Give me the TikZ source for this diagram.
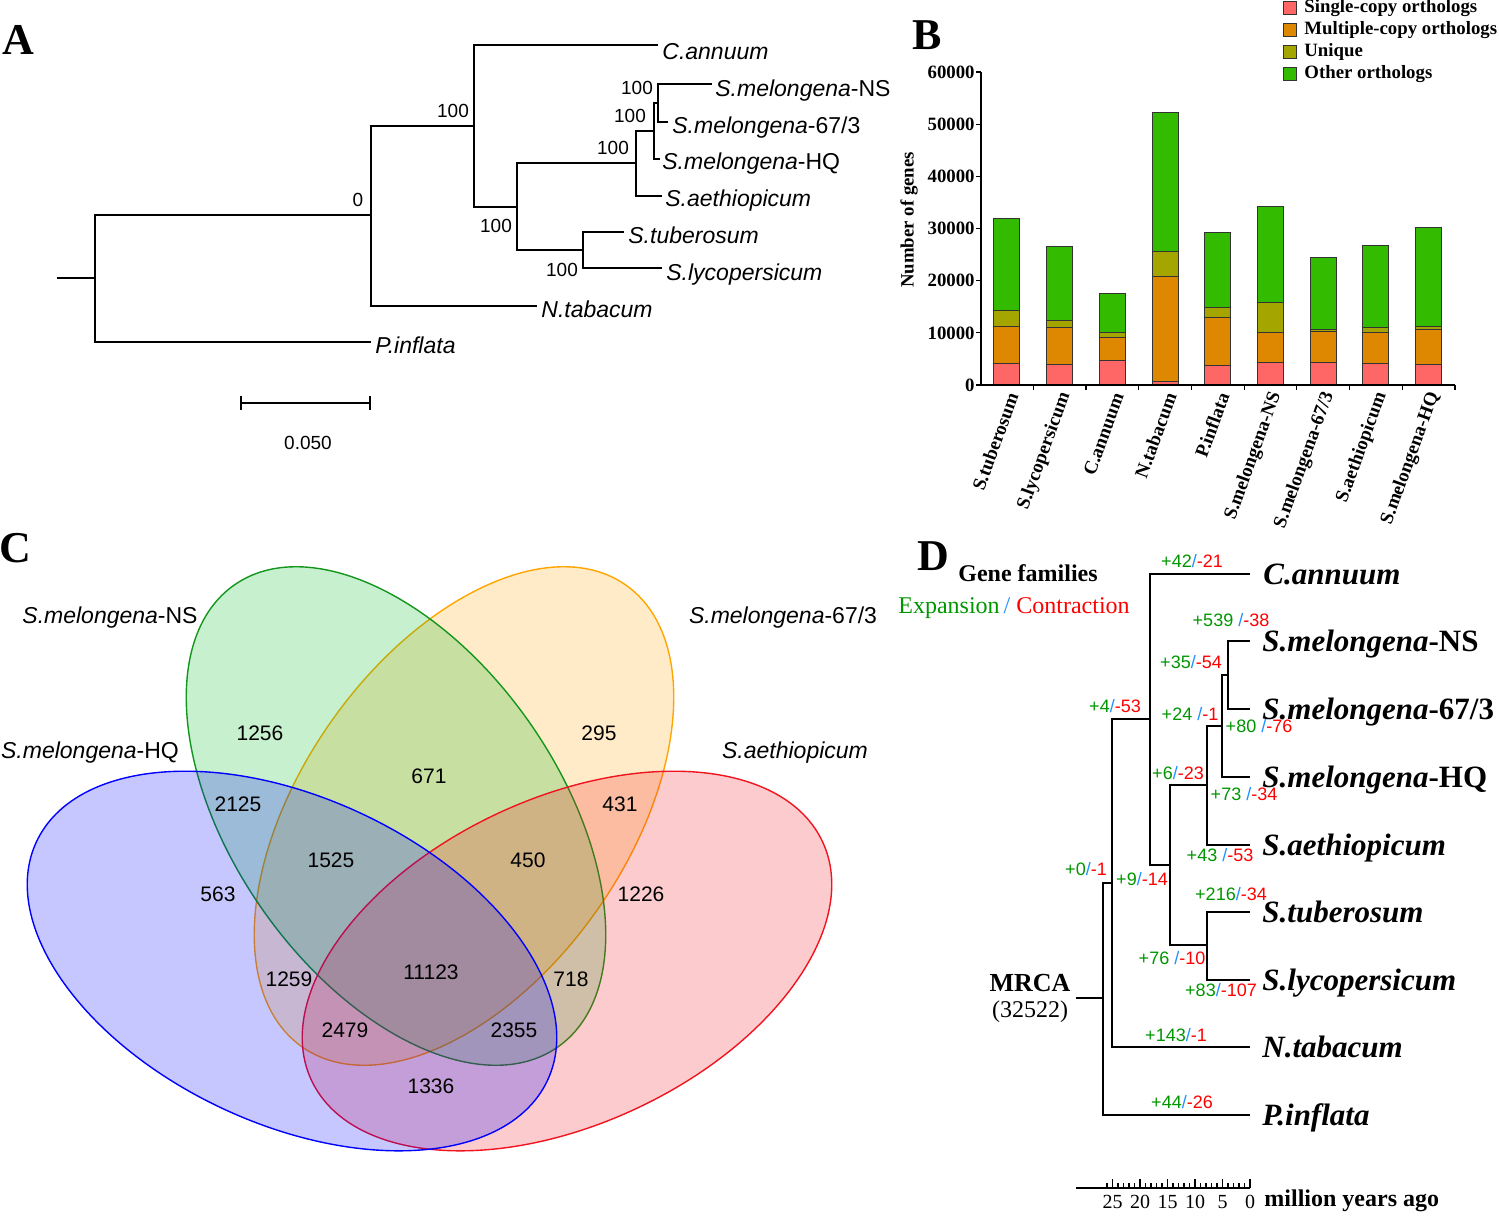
\documentclass[tikz,border=0pt]{standalone}
\usepackage{fontspec}
\setmainfont{Liberation Serif}
\setsansfont{Liberation Sans}
\usetikzlibrary{positioning}
\definecolor{single}{RGB}{255,102,102}
\definecolor{multi}{RGB}{221,136,0}
\definecolor{uniq}{RGB}{165,165,0}
\definecolor{other}{RGB}{51,187,0}
\definecolor{vgreen}{RGB}{20,150,30}
\definecolor{vgreenfill}{RGB}{0,185,35}
\definecolor{vorange}{RGB}{255,165,0}
\definecolor{vblue}{RGB}{0,0,255}
\definecolor{vred}{RGB}{240,20,30}
\definecolor{gaingreen}{RGB}{0,150,0}
\definecolor{lossred}{RGB}{255,0,0}
\definecolor{slashblue}{RGB}{30,144,255}
\newcommand{\gainloss}[2]{\textcolor{gaingreen}{#1}\textcolor{slashblue}{/}\textcolor{lossred}{#2}}

\begin{document}
\begin{tikzpicture}[x=0.5pt,y=-0.5pt]
        \tikzset{panel/.style={font=\fontsize{22}{22}\selectfont\bfseries}}
        \tikzset{branch/.style={line width=0.7pt}}
        \tikzset{taxon/.style={anchor=base west,inner sep=0pt,font=\sffamily\fontsize{11.5}{12}\selectfont}}
        \tikzset{boot/.style={inner sep=0pt,font=\sffamily\fontsize{9.5}{10}\selectfont}}
        \tikzset{bar/.style={draw=black!80,line width=0.5pt}}
        \tikzset{ticklab/.style={inner sep=0pt,font=\bfseries\fontsize{9.4}{10}\selectfont}}
        \tikzset{xlab/.style={rotate=70,anchor=east,inner sep=0pt,font=\bfseries\fontsize{9.5}{10}\selectfont}}
        \tikzset{legsq/.style={draw=black!80,line width=0.5pt,minimum size=6.5pt,inner sep=0pt}}
        \tikzset{legtxt/.style={inner sep=0pt,font=\bfseries\fontsize{9.4}{10}\selectfont}}
        \tikzset{venn/.style={line width=0.7pt,fill opacity=0.22}}
        \tikzset{vnum/.style={inner sep=0pt,font=\sffamily\fontsize{10.5}{11}\selectfont}}
        \tikzset{vlab/.style={inner sep=0pt,font=\sffamily\fontsize{11.5}{12}\selectfont}}
        \tikzset{dbranch/.style={line width=0.9pt}}
        \tikzset{dtaxon/.style={anchor=base west,inner sep=0pt,font=\bfseries\itshape\fontsize{15.5}{16}\selectfont}}
        \tikzset{gl/.style={inner sep=0pt,font=\sffamily\fontsize{9}{10}\selectfont}}

        \useasboundingbox (0,0) rectangle (1499,1217);

        % A: tree
        \node[panel] (pA) at (18,40) {A};
        \coordinate (aR) at (57,278);
        \coordinate (a0) at (95,278);
        \coordinate (a1) at (371,215);
        \coordinate (a2) at (474,126);
        \coordinate (a3) at (517,207);
        \coordinate (a4) at (636,163);
        \coordinate (a5) at (654,131);
        \coordinate (a6) at (658,103);
        \coordinate (a7) at (583,250);
        \coordinate (aCan) at (658,45);
        \coordinate (aNS) at (712,84);
        \coordinate (a67) at (668,122);
        \coordinate (aHQ) at (660,159);
        \coordinate (aAet) at (662,196);
        \coordinate (aTub) at (624,232);
        \coordinate (aLyc) at (662,268);
        \coordinate (aTab) at (537,306);
        \coordinate (aPin) at (371,342);
        \draw[branch] (aR) -- (a0);
        \draw[branch] (a0) |- (a1);
        \draw[branch] (a0) |- (aPin);
        \draw[branch] (a1) |- (a2);
        \draw[branch] (a1) |- (aTab);
        \draw[branch] (a2) |- (aCan);
        \draw[branch] (a2) |- (a3);
        \draw[branch] (a3) |- (a4);
        \draw[branch] (a3) |- (a7);
        \draw[branch] (a4) |- (a5);
        \draw[branch] (a4) |- (aAet);
        \draw[branch] (a5) |- (a6);
        \draw[branch] (a5) |- (aHQ);
        \draw[branch] (a6) |- (aNS);
        \draw[branch] (a6) |- (a67);
        \draw[branch] (a7) |- (aTub);
        \draw[branch] (a7) |- (aLyc);

        \node[taxon] (tCan) at (662,59) {\textit{C.annuum}};
        \node[taxon] (tNS) at (715,96) {\textit{S.melongena}-NS};
        \node[taxon] (t67) at (672,133) {\textit{S.melongena}-67/3};
        \node[taxon] (tHQ) at (662,169) {\textit{S.melongena}-HQ};
        \node[taxon] (tAet) at (665,206) {\textit{S.aethiopicum}};
        \node[taxon] (tTub) at (628,243) {\textit{S.tuberosum}};
        \node[taxon] (tLyc) at (666,280) {\textit{S.lycopersicum}};
        \node[taxon] (tTab) at (541,317) {\textit{N.tabacum}};
        \node[taxon] (tPin) at (375,353) {\textit{P.inflata}};

        \node[boot] (b1) at (358,200) {0};
        \node[boot] (b2) at (453,111) {100};
        \node[boot] (b3) at (496,226) {100};
        \node[boot] (b4) at (613,148) {100};
        \node[boot] (b5) at (630,116) {100};
        \node[boot] (b6) at (637,88) {100};
        \node[boot] (b7) at (562,270) {100};

        \coordinate (sbL) at (241,403);
        \coordinate (sbR) at (370,403);
        \draw[branch] (sbL) -- (sbR);
        \draw[branch] (sbL) ++(0,-7) -- ++(0,14);
        \draw[branch] (sbR) ++(0,-7) -- ++(0,14);
        \node[boot] (sbT) at (308,443) {0.050};

        % B: bars
        \node[panel] (pB) at (927,35) {B};
        \foreach \i/\s/\m/\u/\o/\name in {0/4.2/11.2/14.3/32.0/S.tuberosum,
                1/4.0/11.1/12.3/26.5/S.lycopersicum,
                2/4.65/9.2/10.0/17.5/C.annuum,
                3/0.7/20.8/25.6/52.3/N.tabacum,
                4/3.7/12.9/14.8/29.3/P.inflata,
                5/4.3/10.0/15.8/34.3/S.melongena-NS,
                6/4.3/10.3/10.7/24.4/{S.melongena-67/3},
                7/4.1/10.1/11.0/26.7/S.aethiopicum,
                8/4.0/10.7/11.3/30.1/S.melongena-HQ} {
            \pgfmathsetmacro{\bx}{980.6+52.7*(\i+0.5)}
            \pgfmathsetmacro{\ys}{385-\s*5.2167}
            \pgfmathsetmacro{\ym}{385-\m*5.2167}
            \pgfmathsetmacro{\yu}{385-\u*5.2167}
            \pgfmathsetmacro{\yo}{385-\o*5.2167}
            \filldraw[bar,fill=single] ({\bx-13},385) rectangle ({\bx+13},\ys);
            \filldraw[bar,fill=multi] ({\bx-13},\ys) rectangle ({\bx+13},\ym);
            \filldraw[bar,fill=uniq] ({\bx-13},\ym) rectangle ({\bx+13},\yu);
            \filldraw[bar,fill=other] ({\bx-13},\yu) rectangle ({\bx+13},\yo);
            \node[xlab] (bl\i) at ({\bx+6},393) {\name};
        }
        \coordinate (bO) at (981,385);
        \coordinate (bY) at (981,72);
        \coordinate (bX) at (1455,385);
        \draw[line width=0.8pt] (bY) -- (bO) -- (bX);
        \foreach \k/\lab in {0/0,1/10000,2/20000,3/30000,4/40000,5/50000,6/60000} {
            \draw[line width=0.6pt] (981,{385-52.17*\k}) -- ++(-5,0);
            \node[ticklab,anchor=east] (yt\k) at (975,{385-52.17*\k}) {\lab};
        }
        \foreach \j in {1,...,9}
            \draw[line width=0.6pt] ({980.6+52.7*\j},385) -- ++(0,5);
        \node[ticklab,rotate=90] (ylab) at (909,220) {Number of genes};

        \node[legsq,fill=single] (lgS) at (1290,8) {};
        \node[legsq,fill=multi,below=4pt of lgS] (lgM) {};
        \node[legsq,fill=uniq,below=4pt of lgM] (lgU) {};
        \node[legsq,fill=other,below=4pt of lgU] (lgO) {};
        \node[legtxt,right=3.5pt of lgS] (lgSt) {Single-copy orthologs};
        \node[legtxt,right=3.5pt of lgM] (lgMt) {Multiple-copy orthologs};
        \node[legtxt,right=3.5pt of lgU] (lgUt) {Unique};
        \node[legtxt,right=3.5pt of lgO] (lgOt) {Other orthologs};

        % C: venn
        \node[panel] (pC) at (15,548) {C};
        \filldraw[venn,draw=vorange,fill=vorange,rotate around={55:(464,816)}] (464,816) ellipse [x radius=282, y radius=163];
        \filldraw[venn,draw=vgreen,fill=vgreenfill,rotate around={-55:(396,816)}] (396,816) ellipse [x radius=282, y radius=163];
        \filldraw[venn,draw=vred,fill=vred,rotate around={25:(567,961)}] (567,961) ellipse [x radius=282, y radius=163];
        \filldraw[venn,draw=vblue,fill=vblue,rotate around={-25:(292,961)}] (292,961) ellipse [x radius=282, y radius=163];

        \node[vlab] (vNS) at (110,618) {\textit{S.melongena}-NS};
        \node[vlab] (v67) at (783,618) {\textit{S.melongena}-67/3};
        \node[vlab] (vHQ) at (90,753) {\textit{S.melongena}-HQ};
        \node[vlab] (vAet) at (795,753) {\textit{S.aethiopicum}};

        \node[vnum] (n1) at (260,733) {1256};
        \node[vnum] (n2) at (599,733) {295};
        \node[vnum] (n3) at (429,776) {671};
        \node[vnum] (n4) at (238,804) {2125};
        \node[vnum] (n5) at (620,804) {431};
        \node[vnum] (n6) at (331,860) {1525};
        \node[vnum] (n7) at (528,860) {450};
        \node[vnum] (n8) at (218,894) {563};
        \node[vnum] (n9) at (641,894) {1226};
        \node[vnum] (n10) at (289,979) {1259};
        \node[vnum] (n11) at (431,972) {11123};
        \node[vnum] (n12) at (571,979) {718};
        \node[vnum] (n13) at (345,1030) {2479};
        \node[vnum] (n14) at (514,1030) {2355};
        \node[vnum] (n15) at (431,1086) {1336};

        % D: dated tree
        \node[panel] (pD) at (933,556) {D};
        \node[inner sep=0pt,font=\bfseries\fontsize{12}{12}\selectfont] (gfam) at (1028,573) {Gene families};
        \node[inner sep=0pt,font=\fontsize{12}{12}\selectfont] (expcon) at (1014,608)
            {\textcolor{gaingreen}{Expansion}\,\textcolor{slashblue}{/} \textcolor{lossred}{Contraction}};

        \coordinate (dR) at (1076,998);
        \coordinate (d0) at (1103,998);
        \coordinate (d1) at (1112,883);
        \coordinate (d2) at (1150,719);
        \coordinate (d3) at (1170,865);
        \coordinate (d4) at (1207,785);
        \coordinate (d5) at (1207,945);
        \coordinate (d6) at (1222,726);
        \coordinate (d7) at (1228,675);
        \coordinate (dCan) at (1250,574);
        \coordinate (dNS) at (1250,641);
        \coordinate (d67) at (1250,709);
        \coordinate (dHQ) at (1250,777);
        \coordinate (dAet) at (1250,845);
        \coordinate (dTub) at (1250,912);
        \coordinate (dLyc) at (1250,980);
        \coordinate (dTab) at (1250,1047);
        \coordinate (dPin) at (1250,1115);
        \draw[dbranch] (dR) -- (d0);
        \draw[dbranch] (d0) |- (d1);
        \draw[dbranch] (d0) |- (dPin);
        \draw[dbranch] (d1) |- (d2);
        \draw[dbranch] (d1) |- (dTab);
        \draw[dbranch] (d2) |- (dCan);
        \draw[dbranch] (d2) |- (d3);
        \draw[dbranch] (d3) |- (d4);
        \draw[dbranch] (d3) |- (d5);
        \draw[dbranch] (d4) |- (d6);
        \draw[dbranch] (d4) |- (dAet);
        \draw[dbranch] (d5) |- (dTub);
        \draw[dbranch] (d5) |- (dLyc);
        \draw[dbranch] (d6) |- (d7);
        \draw[dbranch] (d6) |- (dHQ);
        \draw[dbranch] (d7) |- (dNS);
        \draw[dbranch] (d7) |- (d67);

        \node[dtaxon] (eCan) at (1263,584) {C.annuum};
        \node[dtaxon] (eNS) at (1262,651) {S.melongena\upshape-NS};
        \node[dtaxon] (e67) at (1262,719) {S.melongena\upshape-67/3};
        \node[dtaxon] (eHQ) at (1262,787) {S.melongena\upshape-HQ};
        \node[dtaxon] (eAet) at (1262,855) {S.aethiopicum};
        \node[dtaxon] (eTub) at (1262,922) {S.tuberosum};
        \node[dtaxon] (eLyc) at (1262,990) {S.lycopersicum};
        \node[dtaxon] (eTab) at (1262,1057) {N.tabacum};
        \node[dtaxon] (ePin) at (1262,1125) {P.inflata};

        \node[gl] (g1) at (1192,561) {\gainloss{+42}{-21}};
        \node[gl] (g2) at (1231,620) {\gainloss{+539 }{-38}};
        \node[gl] (g3) at (1191,662) {\gainloss{+35}{-54}};
        \node[gl] (g4) at (1190,714) {\gainloss{+24 }{-1}};
        \node[gl] (g5) at (1259,726) {\gainloss{+80 }{-76}};
        \node[gl] (g6) at (1115,706) {\gainloss{+4}{-53}};
        \node[gl] (g7) at (1178,773) {\gainloss{+6}{-23}};
        \node[gl] (g8) at (1244,794) {\gainloss{+73 }{-34}};
        \node[gl] (g9) at (1220,855) {\gainloss{+43 }{-53}};
        \node[gl] (g10) at (1086,869) {\gainloss{+0}{-1}};
        \node[gl] (g11) at (1142,879) {\gainloss{+9}{-14}};
        \node[gl] (g12) at (1231,894) {\gainloss{+216}{-34}};
        \node[gl] (g13) at (1172,958) {\gainloss{+76 }{-10}};
        \node[gl] (g14) at (1221,990) {\gainloss{+83}{-107}};
        \node[gl] (g15) at (1176,1035) {\gainloss{+143}{-1}};
        \node[gl] (g16) at (1182,1102) {\gainloss{+44}{-26}};

        \node[inner sep=0pt,font=\bfseries\fontsize{13}{13}\selectfont] (mrca) at (1030,983) {MRCA};
        \node[inner sep=0pt,font=\fontsize{12}{12}\selectfont] (mrcaN) at (1030,1012) {(32522)};

        \coordinate (tL) at (1076,1188);
        \coordinate (t0) at (1250,1188);
        \draw[line width=0.7pt] (tL) -- (t0);
        \foreach \t in {0,...,26} {
            \pgfmathsetmacro{\th}{mod(\t,5)==0 ? 9 : 5}
            \draw[line width=0.6pt] ({1250-5.5*\t},1188) -- ++(0,-\th);
        }
        \foreach \t in {0,5,...,25}
            \node[inner sep=0pt,font=\fontsize{10}{10}\selectfont] (tl\t) at ({1250-5.5*\t},1202) {\t};
        \node[inner sep=0pt,anchor=west,font=\bfseries\fontsize{12}{12}\selectfont] (mya) at (1264,1201) {million years ago};
\end{tikzpicture}
\end{document}
